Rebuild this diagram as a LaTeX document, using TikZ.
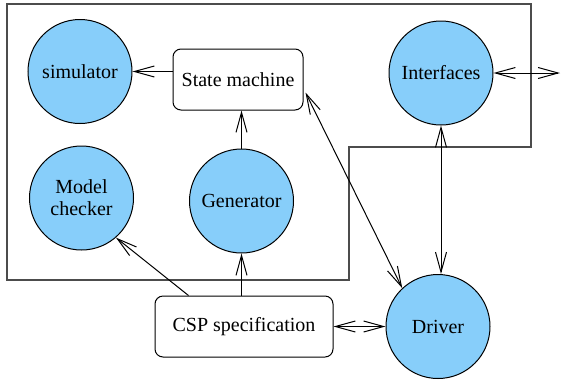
\documentclass[tikz,border=0pt]{standalone}
\usepackage{fontspec}
\setmainfont{Liberation Serif}
\usetikzlibrary{arrows.meta,calc}
\definecolor{cfill}{RGB}{135,206,250}
\begin{document}
\begin{tikzpicture}[x=1pt,y=-1pt,
  txt/.style={font=\fontsize{20}{22}\selectfont},
  circ/.style={circle,draw,line width=1pt,fill=cfill,minimum size=104pt,inner sep=0pt,align=center,txt},
  rbox/.style={draw,rounded corners=8pt,line width=1pt,inner sep=0pt,minimum height=61pt,txt},
  tip/.tip={Straight Barb[length=20pt,width=11pt]},
  conn/.style={line width=1pt,-tip},
  biconn/.style={line width=1pt,tip-tip},
  frame/.style={draw=black!70,line width=1.5pt}]
\useasboundingbox (0,0) rectangle (561,381);
\draw[frame] (7,4) -- (531,4) -- (531,147) -- (349,147) -- (349,280) -- (7,280) -- cycle;
\node[circ] (sim) at (80,71.5) {simulator};
\node[rbox,minimum width=130pt] (sm) at (238,79.5) {State machine};
\node[circ] (intf) at (441,73) {Interfaces};
\node[circ] (mc) at (81.5,198) {Model\\checker};
\node[circ] (gen) at (241.5,201) {Generator};
\node[rbox,minimum width=178pt] (csp) at (244,326.5) {CSP specification};
\node[circ] (drv) at (438,326.5) {Driver};
\coordinate (ext) at (560,73);
\draw[conn] (sm.west |- sim.east) -- (sim.east);
\draw[conn] (gen.north) -- (gen.north |- sm.south);
\draw[biconn] ($(sm.east)+(2,13)$) -- (drv.133);
\draw[biconn] (intf.east) -- (ext);
\draw[biconn] (intf.south) -- (intf.south |- drv.north);
\draw[conn] ($(csp.north west)+(34,0)$) -- (mc.-49);
\draw[conn] (csp.north -| gen.south) -- (gen.south);
\draw[biconn] (csp.east) -- (drv.west);
\end{tikzpicture}
\end{document}
